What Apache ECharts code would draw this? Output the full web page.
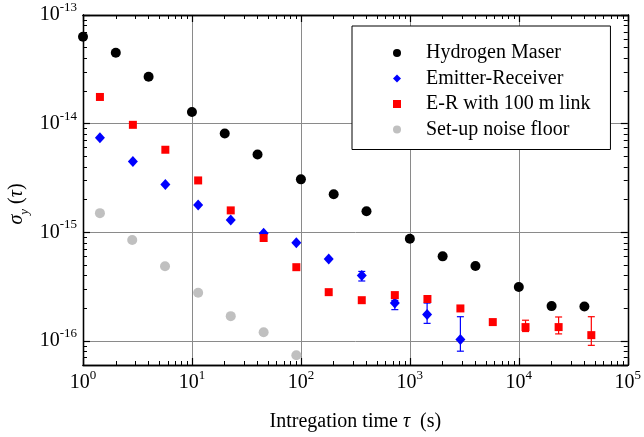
<!DOCTYPE html>
<html>
<head>
<meta charset="utf-8">
<script src="https://cdn.jsdelivr.net/npm/echarts@6/dist/echarts.min.js"></script>
<style>
html,body{margin:0;padding:0;background:#fff;}
#chart{width:644px;height:437px;}
</style>
</head>
<body>
<div id="chart"></div>
<script>
// ---- Data ----
const seriesNames = ['Hydrogen Maser', 'Emitter-Receiver', 'E-R with 100 m link', 'Set-up noise floor'];

const tauMaser   = [1, 2, 4, 10, 20, 40, 100, 200, 400, 1000, 2000, 4000, 10000, 20000, 40000];
const sigmaMaser = [6.3e-14, 4.5e-14, 2.7e-14, 1.28e-14, 8.1e-15, 5.2e-15, 3.07e-15, 2.24e-15, 1.56e-15, 8.7e-16, 6.0e-16, 4.9e-16, 3.13e-16, 2.09e-16, 2.07e-16];

const tauER   = [1.43, 2.87, 5.7, 11.4, 22.7, 45.5, 90.8, 180, 362, 728, 1440, 2910];
const sigmaER = [7.4e-15, 4.47e-15, 2.75e-15, 1.78e-15, 1.30e-15, 9.8e-16, 8.0e-16, 5.68e-16, 3.99e-16, 2.23e-16, 1.75e-16, 1.03e-16];
const errTauER  = [362, 728, 1440, 2910];
const errLowER  = [3.56e-16, 1.94e-16, 1.45e-16, 8.04e-17];
const errHighER = [4.36e-16, 2.36e-16, 2.23e-16, 1.67e-16];

const tauLink   = [1.43, 2.87, 5.7, 11.4, 22.7, 45.5, 90.8, 180, 362, 728, 1450, 2910, 5770, 11530, 23200, 46300];
const sigmaLink = [1.76e-14, 9.75e-15, 5.75e-15, 3.0e-15, 1.59e-15, 8.85e-16, 4.77e-16, 2.81e-16, 2.37e-16, 2.64e-16, 2.43e-16, 1.99e-16, 1.49e-16, 1.34e-16, 1.34e-16, 1.13e-16];
const errTauLink  = [11530, 23200, 46300];
const errLowLink  = [1.22e-16, 1.16e-16, 9.1e-17];
const errHighLink = [1.55e-16, 1.66e-16, 1.67e-16];

const tauFloor   = [1.43, 2.83, 5.66, 11.4, 22.7, 45.5, 90.8];
const sigmaFloor = [1.5e-15, 8.5e-16, 4.87e-16, 2.77e-16, 1.69e-16, 1.2e-16, 7.38e-17];

const xMin = 1, xMax = 1e5;
const yMin = 6e-17, yMax = 1e-13;
const xDecades = [1, 10, 100, 1000, 10000];
const yDecades = [1e-17, 1e-16, 1e-15, 1e-14];

// minor tick values (2..9 in each decade)
function minors(decades, lo, hi) {
  const out = [];
  decades.forEach(d => { for (let k = 2; k <= 9; k++) { const v = k * d; if (v >= lo && v <= hi) out.push(v); } });
  return out;
}
const xMinor = minors(xDecades, xMin, xMax);
const yMinor = minors(yDecades, yMin, yMax);

const FONT = "'Liberation Serif', 'Times New Roman', serif";

function pairs(xs, ys) { return xs.map((x, i) => [x, ys[i]]); }
function triples(xs, lo, hi) { return xs.map((x, i) => [x, lo[i], hi[i]]); }

function powLabel(v) {
  const n = Math.round(Math.log10(v));
  return '{b|10}{s|' + n + '}';
}
const labelRich = {
  b: { fontFamily: FONT, fontSize: 20, color: '#000', lineHeight: 28 },
  s: { fontFamily: FONT, fontSize: 13, color: '#000', verticalAlign: 'top', lineHeight: 14 }
};

function errorBarSeries(data, color) {
  return {
    type: 'custom',
    data: data,
    z: 1,
    silent: true,
    renderItem: function (params, api) {
      const x = api.value(0);
      const p1 = api.coord([x, api.value(1)]);
      const p2 = api.coord([x, api.value(2)]);
      const w = 3.5;
      const st = { stroke: color, lineWidth: 1.2 };
      return {
        type: 'group',
        children: [
          { type: 'line', shape: { x1: p1[0], y1: p1[1], x2: p2[0], y2: p2[1] }, style: st },
          { type: 'line', shape: { x1: p1[0] - w, y1: p1[1], x2: p1[0] + w, y2: p1[1] }, style: st },
          { type: 'line', shape: { x1: p2[0] - w, y1: p2[1], x2: p2[0] + w, y2: p2[1] }, style: st }
        ]
      };
    }
  };
}

const axisLineStyle = { color: '#000', width: 1.3 };

function makeX(position, major, withLabels) {
  return {
    type: 'log', logBase: 10, min: xMin, max: xMax, position: position, gridIndex: 0,
    axisLine: { show: true, onZero: false, lineStyle: axisLineStyle },
    axisTick: major ? { show: true, inside: true, length: 7, lineStyle: { color: '#000', width: 1.2 } }
                    : { show: true, inside: true, length: 4, customValues: xMinor, lineStyle: { color: '#000', width: 1 } },
    axisLabel: withLabels ? { show: true, margin: 4, formatter: powLabel, rich: labelRich } : { show: false },
    splitLine: withLabels ? { show: true, lineStyle: { color: '#8a8a8a', width: 1 } } : { show: false },
    minorTick: { show: false },
    minorSplitLine: { show: false }
  };
}
function makeY(position, major, withLabels) {
  return {
    type: 'log', logBase: 10, min: yMin, max: yMax, position: position, gridIndex: 0,
    axisLine: { show: true, onZero: false, lineStyle: axisLineStyle },
    axisTick: major ? { show: true, inside: true, length: 7, lineStyle: { color: '#000', width: 1.2 } }
                    : { show: true, inside: true, length: 4, customValues: yMinor, lineStyle: { color: '#000', width: 1 } },
    axisLabel: withLabels ? { show: true, margin: 6, showMinLabel: false, formatter: powLabel, rich: labelRich } : { show: false },
    splitLine: withLabels ? { show: true, lineStyle: { color: '#8a8a8a', width: 1 } } : { show: false },
    minorTick: { show: false },
    minorSplitLine: { show: false }
  };
}

const xAxes = [makeX('bottom', true, true), makeX('bottom', false, false), makeX('top', true, false), makeX('top', false, false)];
xAxes[0].name = '{n|Intregation time }{i|τ}{n|  (s)}';
xAxes[0].nameLocation = 'middle';
xAxes[0].nameGap = 47;
xAxes[0].nameTextStyle = {
  rich: {
    n: { fontFamily: FONT, fontSize: 20, color: '#000' },
    i: { fontFamily: FONT, fontSize: 20, color: '#000', fontStyle: 'italic' }
  }
};
const yAxes = [makeY('left', true, true), makeY('left', false, false), makeY('right', true, false), makeY('right', false, false)];

const chart = echarts.init(document.getElementById('chart'), null, { renderer: 'canvas' });
chart.setOption({
  animation: false,
  backgroundColor: '#fff',
  textStyle: { fontFamily: FONT },
  grid: { left: 83, right: 11, top: 15, bottom: 71, containLabel: false },
  xAxis: xAxes,
  yAxis: yAxes,
  graphic: [{
    type: 'text',
    x: 17, y: 204,
    rotation: Math.PI / 2,
    style: {
      text: '{i|σ}{sub|y}{n| (}{i|τ}{n|)}',
      align: 'center', verticalAlign: 'middle',
      rich: {
        i: { fontFamily: FONT, fontSize: 20, fontStyle: 'italic', fill: '#000', lineHeight: 28 },
        n: { fontFamily: FONT, fontSize: 20, fill: '#000', lineHeight: 28 },
        sub: { fontFamily: FONT, fontSize: 13, fontStyle: 'italic', fill: '#000', verticalAlign: 'bottom', lineHeight: 14 }
      }
    }
  }],
  legend: {
    data: seriesNames,
    orient: 'vertical',
    left: 352, top: 26,
    backgroundColor: '#fff',
    borderColor: '#000', borderWidth: 1,
    padding: [17, 20, 10, 41],
    itemWidth: 8, itemHeight: 8, itemGap: 5.5,
    textStyle: { fontFamily: FONT, fontSize: 20, color: '#000', padding: [0, 0, 0, 20] },
    selectedMode: false
  },
  series: [
    { name: seriesNames[0], type: 'scatter', data: pairs(tauMaser, sigmaMaser), symbol: 'circle', symbolSize: 10, itemStyle: { color: '#000', opacity: 1 }, z: 3 },
    errorBarSeries(triples(errTauER, errLowER, errHighER), '#0000ff'),
    { name: seriesNames[1], type: 'scatter', data: pairs(tauER, sigmaER), symbol: 'diamond', symbolSize: [10, 11], itemStyle: { color: '#0000ff', opacity: 1 }, z: 3 },
    errorBarSeries(triples(errTauLink, errLowLink, errHighLink), '#ff0000'),
    { name: seriesNames[2], type: 'scatter', data: pairs(tauLink, sigmaLink), symbol: 'rect', symbolSize: 8, itemStyle: { color: '#ff0000', opacity: 1 }, z: 3 },
    { name: seriesNames[3], type: 'scatter', data: pairs(tauFloor, sigmaFloor), symbol: 'circle', symbolSize: 10, itemStyle: { color: '#c0c0c0', opacity: 1 }, z: 3 }
  ]
});
</script>
</body>
</html>
